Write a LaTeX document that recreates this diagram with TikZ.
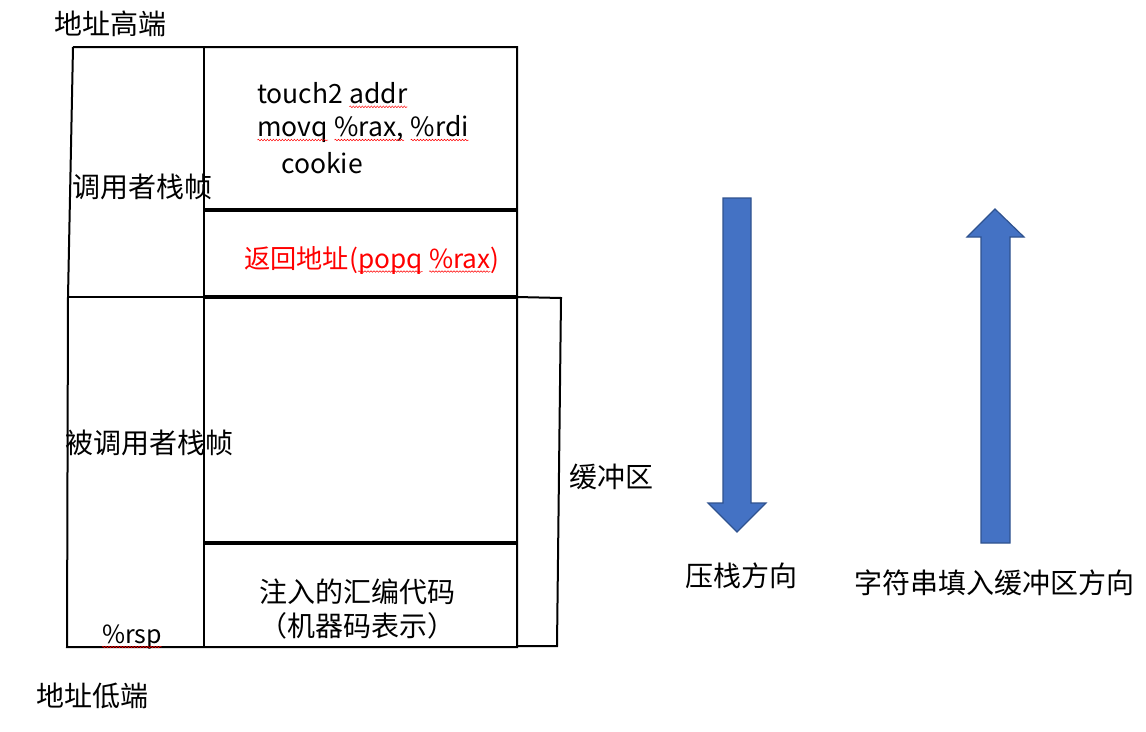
\documentclass[tikz,border=0pt]{standalone}
\usepackage{fontspec}
\setmainfont{Noto Sans CJK SC}
\usetikzlibrary{decorations.pathmorphing}
\newcommand\redwave[1]{\tikz[baseline=(w.base)]{\node[inner sep=0pt,outer sep=0pt,anchor=center,draw=none](w){#1};\draw[red,line width=0.5pt,decorate,decoration={snake,amplitude=0.8pt,segment length=3pt}] ([yshift=-3.5pt]w.base west) -- ([yshift=-3.5pt]w.base east);}}
\definecolor{arrowfill}{HTML}{4472C4}
\definecolor{arrowedge}{HTML}{2F528F}
\tikzset{
  thin line/.style={line width=2pt, black},
  thick line/.style={line width=3.5pt, black},
  txt/.style={inner sep=0pt, font=\fontsize{28}{34}\selectfont},
  lat/.style={inner sep=0pt, font=\fontsize{26.5}{32}\selectfont},
  bigarrow/.style={fill=arrowfill, draw=arrowedge, line width=1.2pt},
}
\begin{document}
\begin{tikzpicture}[x=1pt,y=-1pt]
\useasboundingbox (0,0) rectangle (1146,731);
% coordinates
\coordinate (tl) at (73,47);
\coordinate (ml) at (68,297);
\coordinate (bl) at (67,647);
\coordinate (tm) at (204,47);
\coordinate (bm) at (204,647);
\coordinate (tr) at (517,47);
\coordinate (br) at (517,647);
% frame
\draw[thin line] (tl) -- (tr) -- (br) -- (bl) -- (ml) -- (tl);
\draw[thin line] (tm) -- (bm);
\draw[thin line] (ml) -- (204,297);
\draw[thick line] (204,210) -- (517,210);
\draw[thick line] (204,297) -- (517,297);
\draw[thick line] (204,543) -- (517,543);
% buffer bracket
\coordinate (b1) at (517,297);
\coordinate (b2) at (561,298);
\coordinate (b3) at (557,646);
\coordinate (b4) at (517,646);
\draw[thin line] (b1) -- (b2) -- (b3) -- (b4);
% texts
\node[txt] (hi) at (110,24) {地址高端};
\node[txt] (lo) at (92,696) {地址低端};
\node[lat,anchor=west] (t1) at (257,95) {touch2 \redwave{addr}};
\node[lat,anchor=west] (t2) at (257,129) {\redwave{movq} \redwave{\%rax,} \redwave{\%rdi}};
\node[lat,anchor=west] (t3) at (281,163) {cookie};
\node[txt,anchor=west] (caller) at (72,187) {调用者栈帧};
\node[txt,anchor=west,text=red,font=\fontsize{26.2}{32}\selectfont] (ret) at (244,260) {返回地址(\redwave{popq} \redwave{\%rax})};
\node[txt,anchor=west] (callee) at (65,443) {被调用者栈帧};
\node[txt,anchor=west] (buf) at (569,477) {缓冲区};
\node[txt] (inj1) at (357,592) {注入的汇编代码};
\node[txt] (inj2) at (357,626) {（机器码表示）};
\node[lat,font=\fontsize{25}{30}\selectfont] (rsp) at (132,637) {\redwave{\%rsp}};
% big arrows
\draw[bigarrow] (723,198) -- (751,198) -- (751,503) -- (766,503) -- (737,532) -- (708,503) -- (723,503) -- cycle;
\draw[bigarrow] (981,543) -- (1010,543) -- (1010,237) -- (1024,237) -- (995,209) -- (967,237) -- (981,237) -- cycle;
\node[txt] (push) at (741,576) {压栈方向};
\node[txt] (fill) at (994,583) {字符串填入缓冲区方向};
\end{tikzpicture}
\end{document}
